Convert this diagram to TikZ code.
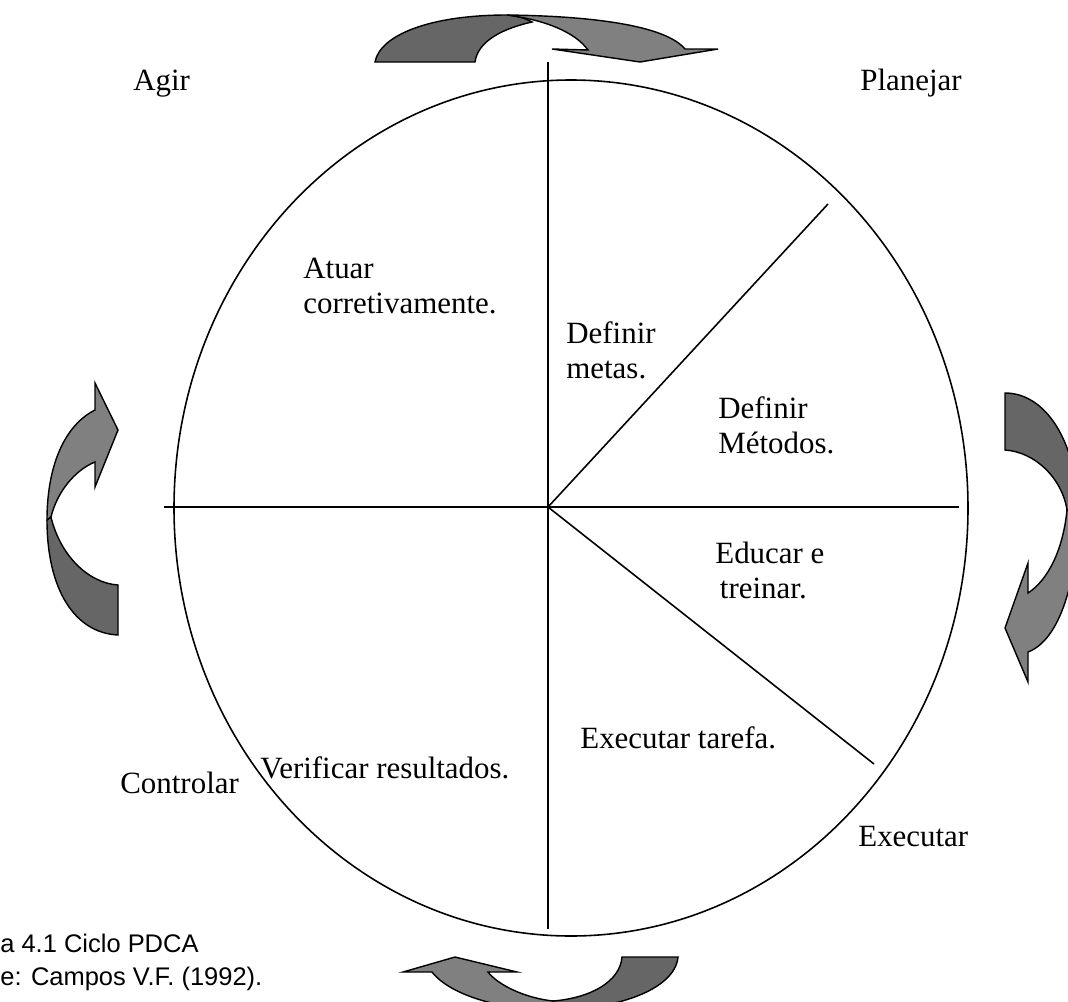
\documentclass[tikz,border=0pt]{standalone}
\usepackage{fontspec}
\setmainfont{Liberation Serif}
\setsansfont{Liberation Sans}
\usepackage{tikz}
\definecolor{cinzaescuro}{RGB}{102,102,102}
\definecolor{cinzaclaro}{RGB}{128,128,128}
\tikzstyle{rotulo} = [inner sep=0pt, anchor=base west, align=left, font=\fontsize{17.6}{19.9}\selectfont]
\tikzstyle{legenda} = [inner sep=0pt, anchor=base west, font=\sffamily\fontsize{14.5}{16}\selectfont]
\tikzstyle{linha} = [line width=0.9pt]
\tikzstyle{escura} = [fill=cinzaescuro, draw=black, line width=0.8pt]
\tikzstyle{clara} = [fill=cinzaclaro, draw=black, line width=0.8pt]

\begin{document}
\begin{tikzpicture}[x=0.02cm, y=-0.02cm]
   \useasboundingbox (0,0) rectangle (1068,1001);
   \clip (0,0) rectangle (1068,1001);
   \coordinate (centro) at (548,507);
   \coordinate (esq) at (164,507);
   \coordinate (dir) at (959,507);
   \coordinate (topo) at (548,62);
   \coordinate (fundo) at (548,929);
   \coordinate (metas) at (828,204);
   \coordinate (tarefa) at (874,764);
   \draw [linha] (571,508) ellipse [x radius=397, y radius=428];
   \draw [linha] (esq) -- (dir);
   \draw [linha] (topo) -- (fundo);
   \draw [linha] (centro) -- (metas);
   \draw [linha] (centro) -- (tarefa);
   \node (agir) [rotulo] at (133,90) {Agir};
   \node (planejar) [rotulo] at (860,90) {Planejar};
   \node (controlar) [rotulo] at (120,793) {Controlar};
   \node (executar) [rotulo] at (858,846) {Executar};
   \node (atuar) [rotulo] at (303,313) {Atuar\\corretivamente.};
   \node (defmetas) [rotulo] at (566,378) {Definir\\metas.};
   \node (defmetodos) [rotulo] at (718,453) {Definir\\Métodos.};
   \node (educar) [rotulo] at (715,598) {Educar e\\\hspace*{0.15em}treinar.};
   \node (exectarefa) [rotulo] at (580,748) {Executar tarefa.};
   \node (verificar) [rotulo] at (260,778) {Verificar resultados.};
   \node (legfig) [legenda] at (0,952) {a 4.1 Ciclo PDCA};
   \node (legfonte) [legenda] at (0,985) {e: Campos V.F. (1992).};
   \draw [escura] (375,62) .. controls (380,35) and (430,15) .. (507,15) .. controls (517,16) and (525,18) .. (532,22) .. controls (505,28) and (478,40) .. (475,62) -- cycle;
   \draw [clara] (507,15) .. controls (590,16) and (665,25) .. (685,49) -- (718,49) -- (640,62) -- (552,49) -- (588,50) .. controls (575,32) and (545,20) .. (507,15) -- cycle;
   \draw [escura] (1005,393) .. controls (1045,393) and (1076,440) .. (1078,508) -- (1067,510) .. controls (1062,478) and (1035,452) .. (1005,450) -- cycle;
   \draw [clara] (1067,510) .. controls (1063,550) and (1048,580) .. (1028,593) -- (1028,563) -- (1005,628) -- (1028,682) -- (1028,652) .. controls (1060,640) and (1078,580) .. (1078,508) -- cycle;
   \draw [clara] (47,520) .. controls (47,465) and (65,425) .. (95,410) -- (95,383) -- (118,430) -- (95,487) -- (95,462) .. controls (75,470) and (57,492) .. (51,517) -- cycle;
   \draw [escura] (51,517) .. controls (60,555) and (88,583) .. (118,585) -- (118,635) .. controls (75,633) and (47,590) .. (47,520) -- cycle;
   \draw [escura] (553,1001) .. controls (590,998) and (620,982) .. (622,957) -- (678,957) .. controls (675,990) and (615,1010) .. (553,1010) -- cycle;
   \draw [clara] (553,1001) .. controls (525,998) and (498,985) .. (488,972) -- (517,972) -- (455,957) -- (403,972) -- (432,972) .. controls (450,995) and (500,1010) .. (553,1010) -- cycle;
\end{tikzpicture}
\end{document}
